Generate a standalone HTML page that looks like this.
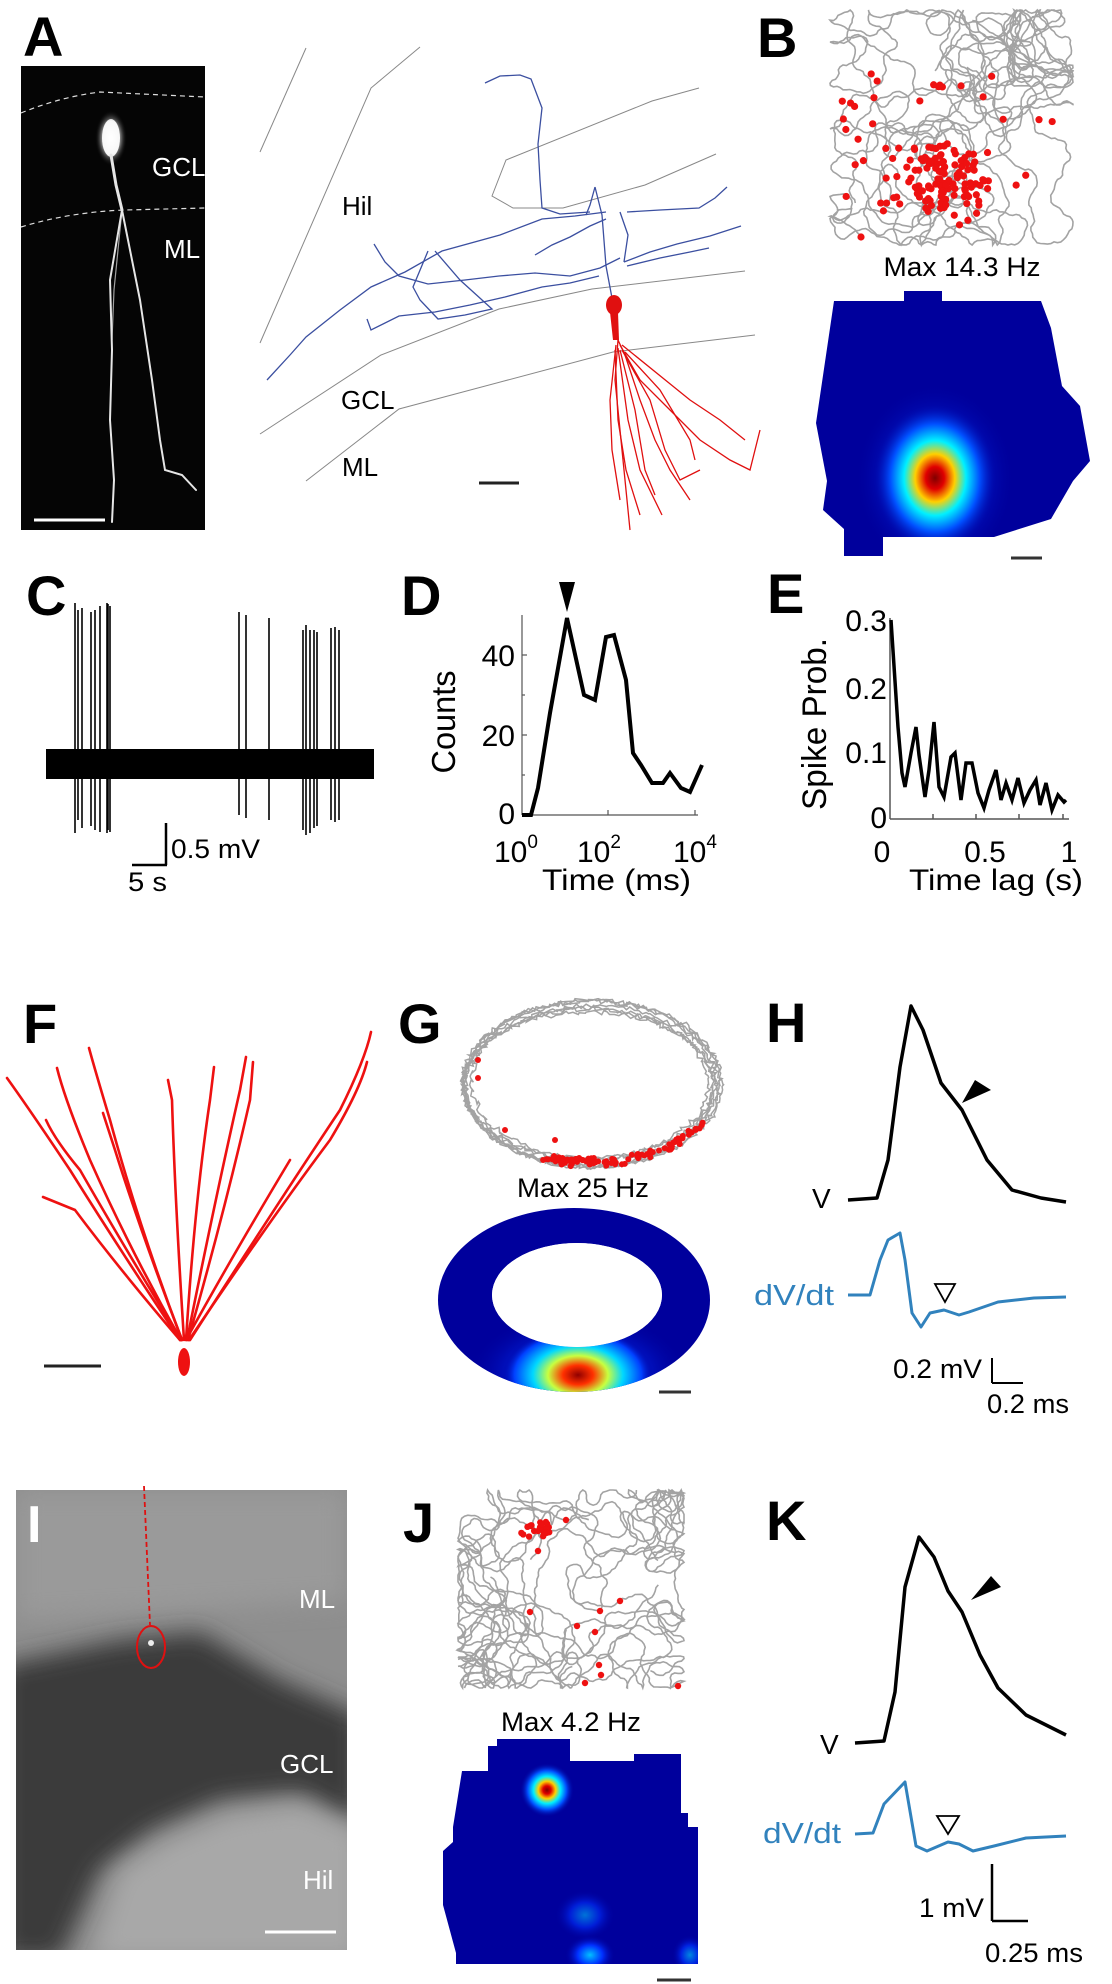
<!DOCTYPE html>
<html><head><meta charset="utf-8"><style>
html,body{margin:0;padding:0;background:#fff;}
svg{display:block;}
text{font-family:"Liberation Sans",sans-serif;}
.lab{font-weight:bold;font-size:56px;}
</style></head><body>
<svg id="s" width="1112" height="1984" viewBox="0 0 1112 1984" xmlns="http://www.w3.org/2000/svg">
<defs>
<radialGradient id="jet1" cx="0.5" cy="0.5" r="0.5">
<stop offset="0" stop-color="#800000"/><stop offset="0.15" stop-color="#e00000"/><stop offset="0.32" stop-color="#ffd000"/><stop offset="0.5" stop-color="#00f0ff"/><stop offset="0.72" stop-color="#0050ff"/><stop offset="1" stop-color="#00009c" stop-opacity="0"/>
</radialGradient>
<radialGradient id="jet2" cx="0.5" cy="0.5" r="0.5">
<stop offset="0" stop-color="#900000"/><stop offset="0.2" stop-color="#ff3000"/><stop offset="0.4" stop-color="#c8ff40"/><stop offset="0.6" stop-color="#00d8ff"/><stop offset="0.85" stop-color="#0040ff"/><stop offset="1" stop-color="#00009c" stop-opacity="0"/>
</radialGradient>
<radialGradient id="blu" cx="0.5" cy="0.5" r="0.5">
<stop offset="0" stop-color="#00c0ff"/><stop offset="0.5" stop-color="#0030ff"/><stop offset="1" stop-color="#00009c" stop-opacity="0"/>
</radialGradient>
<radialGradient id="glow" cx="0.5" cy="0.5" r="0.5">
<stop offset="0" stop-color="#fff"/><stop offset="0.6" stop-color="#eee"/><stop offset="1" stop-color="#000" stop-opacity="0"/>
</radialGradient>
<filter id="bl"><feGaussianBlur stdDeviation="12"/></filter>
<clipPath id="cI"><rect x="16" y="1490" width="331" height="460"/></clipPath>
</defs>

<!-- ===== A ===== -->
<text class="lab" x="23" y="56">A</text>
<rect x="21" y="66" width="184" height="464" fill="#050505"/>
<path d="M21,113 Q60,97 100,92 L205,97" stroke="#ddd" stroke-width="1.2" stroke-dasharray="5,4" fill="none"/>
<path d="M21,227 Q70,212 125,210 L205,208" stroke="#ddd" stroke-width="1.2" stroke-dasharray="5,4" fill="none"/>
<ellipse cx="111" cy="138" rx="9" ry="19" fill="#fff"/>
<ellipse cx="111" cy="138" rx="16" ry="28" fill="url(#glow)" opacity="0.5"/>
<g stroke="#e6e6e6" fill="none" stroke-linecap="round">
<path d="M111,155 L116,185 L122,210" stroke-width="3"/>
<path d="M122,210 L110,280 L112,350 L110,420 L114,480 L112,522" stroke-width="2"/>
<path d="M122,210 L140,300 L152,380 L160,440 L165,470 L182,475 L196,490" stroke-width="2"/>
<path d="M122,210 L114,290 L112,340" stroke-width="1.2" opacity="0.7"/>
</g>
<text x="152" y="176" fill="#fff" font-size="26">GCL</text>
<text x="164" y="258" fill="#fff" font-size="26">ML</text>
<line x1="34" y1="520" x2="105" y2="520" stroke="#fff" stroke-width="3"/>

<!-- tracing -->
<g stroke="#888" stroke-width="1" fill="none">
<polyline points="306,48 260,152"/>
<polyline points="420,47 371,88 260,343"/>
<polyline points="699,88 652,101 506,160 492,196 513,208 563,208 645,185 716,154"/>
<polyline points="745,271 592,289 499,309 381,355 260,434"/>
<polyline points="755,335 613,352 399,409 306,481"/>
</g>
<text x="342" y="215" font-size="26">Hil</text>
<text x="341" y="409" font-size="26">GCL</text>
<text x="342" y="476" font-size="26">ML</text>
<line x1="479" y1="483" x2="519" y2="483" stroke="#222" stroke-width="3"/>
<g stroke="#3b4fa0" stroke-width="1.3" fill="none">
<polyline points="612,298 606,266 602,215 595,187"/>
<polyline points="485,83 500,76 520,75 531,79 542,108 538,144 540,180 542,208 560,214 590,212"/>
<polyline points="606,212 575,216 542,219 500,235 442,251 405,272 371,287 340,310 306,337 290,355 267,380"/>
<polyline points="620,258 600,268 570,276 535,273 499,276 465,280 428,284 399,276 385,262 374,244"/>
<polyline points="599,276 570,283 542,287 505,297 470,305 435,312 399,316 371,330 367,319"/>
<polyline points="624,262 650,252 677,244 710,236 741,226"/>
<polyline points="627,266 660,258 690,252 709,248"/>
<polyline points="620,212 628,235 624,262"/>
<polyline points="627,212 660,210 699,208 715,198 727,187"/>
<polyline points="535,255 552,245 570,237 590,226 606,219"/>
<polyline points="435,251 460,280 492,309 465,315 438,319 420,300 413,287 428,251"/>
<polyline points="595,187 590,205 586,215"/>
</g>
<g stroke="#e01010" stroke-width="1.3" fill="none">
<path d="M613,316 L618,340 L625,355 L640,400 L655,440 L670,470 L690,500"/>
<path d="M618,340 L615,380 L620,430 L625,480 L630,530"/>
<path d="M620,345 L640,380 L670,410 L700,440 L730,460 L750,470 L760,430"/>
<path d="M622,350 L650,400 L665,450 L680,480 L700,470"/>
<path d="M616,345 L610,400 L612,450 L620,500"/>
<path d="M620,350 L635,410 L645,470 L655,495"/>
<path d="M625,352 L660,390 L690,440 L695,460"/>
<path d="M618,348 L628,420 L640,470 L662,515"/>
<path d="M622,345 L690,400 L720,420 L745,440"/>
<path d="M615,350 L618,420 L626,470 L640,515"/>
</g>
<ellipse cx="614" cy="305" rx="8" ry="10" fill="#e01010"/>
<path d="M610,312 L618,312 L619,340 L613,340Z" fill="#e01010"/>

<!-- ===== B ===== -->
<text class="lab" x="757" y="57">B</text>
<g id="trajB"></g>
<text x="962" y="276" font-size="27" text-anchor="middle" textLength="157" lengthAdjust="spacingAndGlyphs">Max 14.3 Hz</text>
<clipPath id="cB"><polygon points="904,291 942,291 942,301 1041,301 1051,328 1062,386 1080,406 1090,461 1073,481 1051,519 994,537 883,537 883,556 844,556 844,529 823,510 827,481 816,423 834,301 904,301"/></clipPath>
<g clip-path="url(#cB)">
<rect x="810" y="285" width="290" height="280" fill="#00009c"/>
<ellipse cx="935" cy="478" rx="80" ry="95" fill="url(#blu)" opacity="0.6"/>
<ellipse cx="935" cy="478" rx="62" ry="75" fill="url(#jet1)"/>
</g>
<line x1="1011" y1="558" x2="1042" y2="558" stroke="#333" stroke-width="3"/>

<!-- ===== C ===== -->
<text class="lab" x="26" y="615">C</text>
<g stroke="#000" stroke-width="1.6" id="spk"></g>
<rect x="46" y="749" width="328" height="30" fill="#000"/>
<line x1="166" y1="823" x2="166" y2="865" stroke="#000" stroke-width="2.5"/>
<line x1="132" y1="865" x2="167" y2="865" stroke="#000" stroke-width="2.5"/>
<text x="171" y="858" font-size="27" textLength="89" lengthAdjust="spacingAndGlyphs">0.5 mV</text>
<text x="128" y="891" font-size="27" textLength="39" lengthAdjust="spacingAndGlyphs">5 s</text>

<!-- ===== D ===== -->
<text class="lab" x="401" y="615">D</text>
<polygon points="559,582 575,582 567,612" fill="#000"/>
<g stroke="#555" stroke-width="1.2">
<line x1="522" y1="615" x2="522" y2="815"/>
<line x1="522" y1="815" x2="698" y2="815"/>
<line x1="522" y1="655" x2="527" y2="655"/><line x1="522" y1="735" x2="527" y2="735"/><line x1="522" y1="695" x2="525" y2="695"/><line x1="522" y1="775" x2="525" y2="775"/>
<line x1="608" y1="815" x2="608" y2="810"/><line x1="695" y1="815" x2="695" y2="810"/>
</g>
<polyline points="522,815 531,815 538,788 550,713 567,618 584,695 595,700 606,637 614,635 626,680 633,753 641,765 652,783 663,783 670,773 681,788 690,792 702,765" fill="none" stroke="#000" stroke-width="4" stroke-linejoin="miter"/>
<g font-size="30">
<text x="515" y="666" text-anchor="end">40</text>
<text x="515" y="746" text-anchor="end">20</text>
<text x="515" y="824" text-anchor="end">0</text>
<text x="494" y="862">10<tspan font-size="19" dy="-14">0</tspan></text>
<text x="577" y="862">10<tspan font-size="19" dy="-14">2</tspan></text>
<text x="673" y="862">10<tspan font-size="19" dy="-14">4</tspan></text>
<text x="542" y="890" textLength="149" lengthAdjust="spacingAndGlyphs">Time (ms)</text>
</g>
<text transform="translate(455,722) rotate(-90)" font-size="33" text-anchor="middle" textLength="103" lengthAdjust="spacingAndGlyphs">Counts</text>

<!-- ===== E ===== -->
<text class="lab" x="767" y="613">E</text>
<g stroke="#555" stroke-width="1.5">
<line x1="890" y1="618" x2="890" y2="819"/>
<line x1="890" y1="819" x2="1069" y2="819"/>
<line x1="933" y1="819" x2="933" y2="814"/><line x1="976" y1="819" x2="976" y2="814"/><line x1="1019" y1="819" x2="1019" y2="814"/><line x1="1063" y1="819" x2="1063" y2="814"/>
</g>
<polyline points="891,620 898,727 902,773 905,787 911,753 916,727 919,755 925,797 929,770 934,722 939,787 944,797 951,757 955,753 961,800 966,763 972,763 978,793 984,808 989,790 996,770 1001,800 1006,783 1012,800 1018,778 1024,803 1030,790 1036,780 1040,805 1046,783 1052,810 1058,795 1064,802 1066,800" fill="none" stroke="#000" stroke-width="3.5"/>
<g font-size="30">
<text x="887" y="631" text-anchor="end">0.3</text>
<text x="887" y="699" text-anchor="end">0.2</text>
<text x="887" y="763" text-anchor="end">0.1</text>
<text x="887" y="828" text-anchor="end">0</text>
<text x="882" y="862" text-anchor="middle">0</text>
<text x="985" y="862" text-anchor="middle">0.5</text>
<text x="1069" y="862" text-anchor="middle">1</text>
<text x="909" y="890" textLength="174" lengthAdjust="spacingAndGlyphs">Time lag (s)</text>
</g>
<text transform="translate(826,724) rotate(-90)" font-size="34" text-anchor="middle" textLength="172" lengthAdjust="spacingAndGlyphs">Spike Prob.</text>

<!-- ===== F ===== -->
<text class="lab" x="23" y="1043">F</text>
<g stroke="#ee1111" stroke-width="2.6" fill="none" stroke-linecap="round">
<path d="M180,1340 Q120,1250 70,1170 Q30,1110 7,1078"/>
<path d="M181,1340 Q130,1250 90,1160 Q65,1100 57,1068"/>
<path d="M182,1340 Q140,1230 110,1120 Q95,1070 89,1048"/>
<path d="M184,1340 Q175,1200 172,1100 L168,1080"/>
<path d="M186,1340 Q195,1200 210,1100 L214,1067"/>
<path d="M187,1340 Q215,1200 240,1090 L246,1057"/>
<path d="M188,1340 Q225,1210 250,1100 L253,1062"/>
<path d="M190,1340 Q280,1200 340,1110 Q365,1060 371,1032"/>
<path d="M189,1340 Q270,1220 330,1140 Q360,1090 367,1062"/>
<path d="M180,1340 Q120,1270 75,1210 L43,1197"/>
<path d="M182,1340 Q140,1230 115,1150 L103,1113"/>
<path d="M181,1340 Q120,1240 80,1170 Q55,1140 46,1120"/>
<path d="M186,1340 Q230,1260 290,1160"/>
</g>
<ellipse cx="184" cy="1362" rx="6" ry="14" fill="#ee1111"/>
<line x1="44" y1="1366" x2="101" y2="1366" stroke="#222" stroke-width="3"/>

<!-- ===== G ===== -->
<text class="lab" x="398" y="1043">G</text>
<g id="trajG"></g>
<text x="583" y="1197" font-size="27" text-anchor="middle" textLength="132" lengthAdjust="spacingAndGlyphs">Max 25 Hz</text>
<clipPath id="cG"><path clip-rule="evenodd" d="M438,1300 a136,92 0 1,0 272,0 a136,92 0 1,0 -272,0Z M492,1295 a85,52 0 1,0 170,0 a85,52 0 1,0 -170,0Z"/></clipPath>
<g clip-path="url(#cG)">
<rect x="430" y="1200" width="290" height="200" fill="#00009c"/>
<ellipse cx="578" cy="1372" rx="110" ry="60" fill="url(#blu)" opacity="0.7"/>
<ellipse cx="578" cy="1375" rx="75" ry="48" fill="url(#jet2)"/>
</g>
<ellipse cx="577" cy="1295" rx="85" ry="52" fill="#fff"/>
<line x1="659" y1="1392" x2="691" y2="1392" stroke="#333" stroke-width="3"/>

<!-- ===== H ===== -->
<text class="lab" x="766" y="1042">H</text>
<polyline points="848,1200 877,1198 888,1160 900,1067 911,1006 923,1030 941,1083 962,1110 987,1160 1012,1190 1041,1198 1066,1202" fill="none" stroke="#000" stroke-width="3.5" stroke-linejoin="round"/>
<polygon points="962,1103 975,1080 991,1090" fill="#000"/>
<text x="812" y="1208" font-size="28">V</text>
<polyline points="848,1295 870,1295 880,1260 888,1240 900,1233 905,1260 912,1313 921,1327 930,1313 944,1310 959,1315 969,1312 998,1302 1034,1298 1066,1297" fill="none" stroke="#3182bd" stroke-width="3" stroke-linejoin="round"/>
<polygon points="935,1284 955,1284 945,1302" fill="none" stroke="#000" stroke-width="1.8"/>
<text x="754" y="1305" font-size="29" fill="#3182bd" textLength="80" lengthAdjust="spacingAndGlyphs">dV/dt</text>
<line x1="992" y1="1358" x2="992" y2="1383" stroke="#000" stroke-width="2"/>
<line x1="992" y1="1383" x2="1023" y2="1383" stroke="#000" stroke-width="2"/>
<text x="893" y="1378" font-size="27" textLength="89" lengthAdjust="spacingAndGlyphs">0.2 mV</text>
<text x="987" y="1413" font-size="27" textLength="82" lengthAdjust="spacingAndGlyphs">0.2 ms</text>

<!-- ===== I ===== -->
<g clip-path="url(#cI)">
<rect x="16" y="1490" width="331" height="460" fill="#8e8e8e"/>
<polygon filter="url(#bl)" fill="#9a9a9a" points="16,1490 347,1490 347,1600 16,1620"/>
<polygon filter="url(#bl)" fill="#3a3a3a" points="0,1665 120,1640 200,1632 280,1680 360,1715 360,1825 300,1792 220,1800 150,1831 100,1870 60,1960 0,1960"/>
<polygon filter="url(#bl)" fill="#a8a8a8" points="90,1960 120,1870 170,1840 230,1815 300,1805 360,1830 360,1960"/>
</g>
<text x="27" y="1542" font-size="52" font-weight="bold" fill="#fff">I</text>
<line x1="144" y1="1486" x2="150" y2="1625" stroke="#e01010" stroke-width="1.8" stroke-dasharray="5,3"/>
<ellipse cx="151" cy="1647" rx="14" ry="21" fill="none" stroke="#e01010" stroke-width="2"/>
<circle cx="151" cy="1643" r="3" fill="#eee"/>
<text x="299" y="1608" font-size="26" fill="#fff">ML</text>
<text x="280" y="1773" font-size="26" fill="#fff">GCL</text>
<text x="303" y="1889" font-size="26" fill="#fff">Hil</text>
<line x1="265" y1="1932" x2="336" y2="1932" stroke="#fff" stroke-width="3"/>

<!-- ===== J ===== -->
<text class="lab" x="403" y="1542">J</text>
<g id="trajJ"></g>
<text x="571" y="1731" font-size="27" text-anchor="middle" textLength="140" lengthAdjust="spacingAndGlyphs">Max 4.2 Hz</text>
<clipPath id="cJ"><polygon points="497,1739 570,1739 570,1761 634,1761 634,1754 681,1754 681,1813 688,1813 688,1827 698,1827 698,1964 456,1964 456,1953 443,1905 443,1851 453,1842 453,1827 462,1771 488,1771 488,1746 497,1746"/></clipPath>
<g clip-path="url(#cJ)">
<rect x="440" y="1735" width="260" height="232" fill="#00009c"/>
<ellipse cx="585" cy="1915" rx="30" ry="25" fill="url(#blu)" opacity="0.6"/>
<ellipse cx="590" cy="1955" rx="25" ry="20" fill="url(#blu)"/>
<ellipse cx="690" cy="1955" rx="18" ry="20" fill="url(#blu)" opacity="0.7"/>
<ellipse cx="547" cy="1790" rx="27" ry="27" fill="url(#jet1)"/>
</g>
<line x1="657" y1="1980" x2="691" y2="1980" stroke="#333" stroke-width="3"/>

<!-- ===== K ===== -->
<text class="lab" x="766" y="1540">K</text>
<polyline points="855,1743 884,1741 895,1692 905,1587 919,1537 934,1557 948,1591 962,1612 980,1655 998,1688 1026,1715 1066,1735" fill="none" stroke="#000" stroke-width="3.5" stroke-linejoin="round"/>
<polygon points="971,1600 991,1576 1001,1587" fill="#000"/>
<text x="820" y="1754" font-size="28">V</text>
<polyline points="855,1834 873,1833 884,1804 905,1782 916,1846 927,1851 948,1842 959,1844 973,1851 994,1846 1026,1838 1066,1836" fill="none" stroke="#3182bd" stroke-width="3" stroke-linejoin="round"/>
<polygon points="937,1816 959,1816 948,1834" fill="none" stroke="#000" stroke-width="1.8"/>
<text x="763" y="1843" font-size="29" fill="#3182bd" textLength="78" lengthAdjust="spacingAndGlyphs">dV/dt</text>
<line x1="992" y1="1864" x2="992" y2="1921" stroke="#000" stroke-width="2.5"/>
<line x1="992" y1="1921" x2="1028" y2="1921" stroke="#000" stroke-width="2.5"/>
<text x="919" y="1917" font-size="27" textLength="65" lengthAdjust="spacingAndGlyphs">1 mV</text>
<text x="985" y="1962" font-size="27" textLength="98" lengthAdjust="spacingAndGlyphs">0.25 ms</text>
</svg>
<script>
(function(){
var NS="http://www.w3.org/2000/svg";
function el(p,t,a){var e=document.createElementNS(NS,t);for(var k in a)e.setAttribute(k,a[k]);p.appendChild(e);return e;}
function rng(s){return function(){s=(s*16807)%2147483647;return s/2147483647;};}
function walk(g,x0,y0,x1,y1,n,seed){
 var r=rng(seed);
 for(var w=0;w<6;w++){
 var x=x0+r()*(x1-x0),y=y0+r()*(y1-y0),a=r()*6.28,p=[];
 for(var i=0;i<n;i++){a+=(r()-0.5)*1.5;x+=Math.cos(a)*3.5;y+=Math.sin(a)*3.5;
  if(x<x0||x>x1){a=Math.PI-a;x=Math.max(x0,Math.min(x1,x));}
  if(y<y0||y>y1){a=-a;y=Math.max(y0,Math.min(y1,y));}
  p.push(x.toFixed(1)+","+y.toFixed(1));}
 el(g,"polyline",{points:p.join(" "),fill:"none",stroke:"#a3a3a3","stroke-width":"1.6"});}
}
function dots(g,list,r){list.forEach(function(d){el(g,"circle",{cx:d[0],cy:d[1],r:r||3.2,fill:"#ee1111"});});}
// B
var gB=document.getElementById("trajB");walk(gB,830,10,1073,245,450,12345);
var r=rng(777),L=[];
for(var i=0;i<120;i++){L.push([940+(r()+r()-1)*60,182+(r()+r()-1)*45]);}
for(var i=0;i<35;i++){L.push([840+r()*220,60+r()*160]);}
L.push([861,237]);dots(gB,L,3.6);
// G ring
var gG=document.getElementById("trajG");r=rng(999);
for(var k=0;k<7;k++){var p=[],rx=122+r()*14,ry=72+r()*12,cx=590+(r()-0.5)*10,cy=1085+(r()-0.5)*8;
 for(var t=0;t<=200;t++){var a=t/200*Math.PI*2;p.push((cx+Math.cos(a)*rx+(r()-0.5)*5).toFixed(1)+","+(cy+Math.sin(a)*ry+(r()-0.5)*5).toFixed(1));}
 el(gG,"polyline",{points:p.join(" "),fill:"none",stroke:"#a3a3a3","stroke-width":"1.5"});}
L=[];
for(var i=0;i<70;i=i+1){var a=(0.15+r()*0.45)*Math.PI;L.push([590+Math.cos(a)*128,1085+Math.sin(a)*78+(r()-0.5)*8]);}
for(var i=0;i<25;i++){L.push([540+r()*80,1158+r()*6]);}
L.push([478,1060],[478,1078],[505,1130],[555,1140]);dots(gG,L,3);
// J
var gJ=document.getElementById("trajJ");walk(gJ,458,1490,684,1688,420,4242);
L=[];for(var i=0;i<25;i++){L.push([535+(r()-0.5)*30,1530+(r()-0.5)*16]);}
L.push([566,1520],[538,1551],[530,1612],[600,1611],[620,1601],[577,1626],[595,1632],[599,1665],[601,1675],[585,1683],[678,1686]);dots(gJ,L,3.2);
// C spikes
var sp=document.getElementById("spk");
[[75,603,833],[78,610,820],[82,608,828],[91,612,826],[95,610,830],[100,606,832],[107,603,833],[108,604,830],[110,606,832],[239,612,815],[246,615,818],[269,618,820],[303,630,830],[306,625,835],[310,630,833],[314,630,828],[317,632,826],[331,628,820],[335,627,822],[339,630,820]].forEach(function(s){el(sp,"line",{x1:s[0],y1:s[1],x2:s[0],y2:s[2]});});
})();
</script>
</body></html>
